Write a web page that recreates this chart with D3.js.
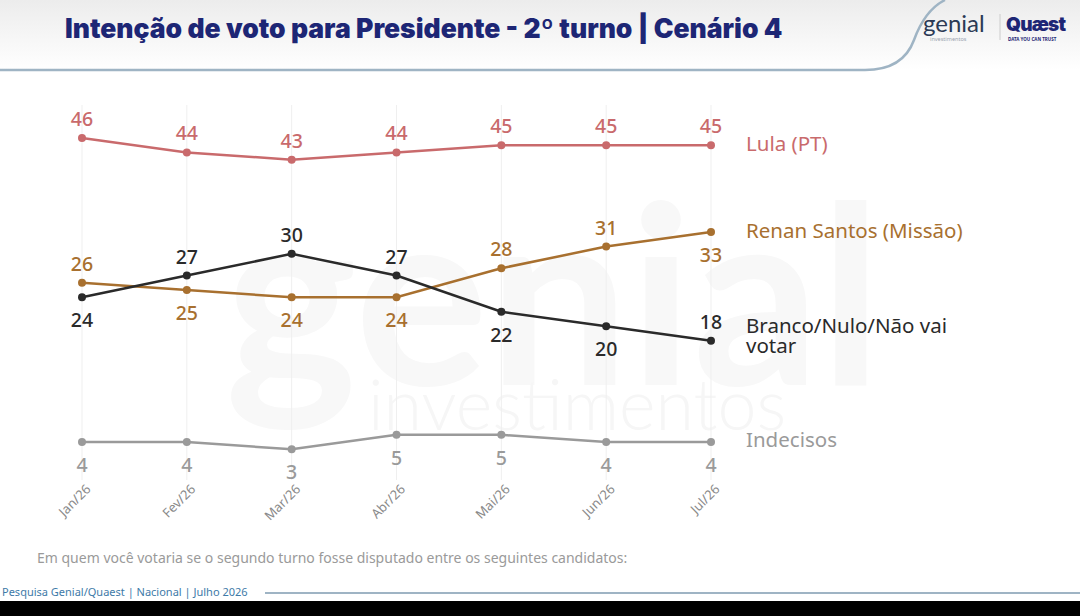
<!DOCTYPE html>
<html>
<head>
<meta charset="utf-8">
<script src="https://cdn.jsdelivr.net/npm/d3@7"></script>
<style>
body { margin: 0; background: #fff; }
svg { display: block; font-family: "Noto Sans", Lato, sans-serif; }
</style>
</head>
<body>
<script>
// dados
var meses = ['Jan/26', 'Fev/26', 'Mar/26', 'Abr/26', 'Mai/26', 'Jun/26', 'Jul/26'];
var lula = [46, 44, 43, 44, 45, 45, 45];
var renan = [26, 25, 24, 24, 28, 31, 33];
var branco = [24, 27, 30, 27, 22, 20, 18];
var indecisos = [4, 4, 3, 5, 5, 4, 4];

// label above (-1) or below (1)
var lulaPos = [-1, -1, -1, -1, -1, -1, -1];
var renanPos = [-1, 1, 1, 1, -1, -1, 1];
var brancoPos = [1, -1, -1, -1, 1, 1, -1];
var indecisosPos = [1, 1, 1, 1, 1, 1, 1];

var svg = d3.select('body').append('svg')
  .attr('width', 1080)
  .attr('height', 616);

var defs = svg.append('defs');
var grad = defs.append('linearGradient').attr('id', 'topgrad').attr('x1', 0).attr('y1', 0).attr('x2', 0).attr('y2', 1);
grad.append('stop').attr('offset', '0%').attr('stop-color', '#ececec');
grad.append('stop').attr('offset', '100%').attr('stop-color', '#ffffff');

svg.append('rect').attr('width', 1080).attr('height', 616).attr('fill', '#fff');
svg.append('rect').attr('width', 1080).attr('height', 70).attr('fill', 'url(#topgrad)');

// header curve
svg.append('path')
  .attr('d', 'M0,70 L865,70 Q903,70 914,40 Q925,10 945,0')
  .attr('fill', 'none')
  .attr('stroke', '#9fb4c4')
  .attr('stroke-width', 2.5);

svg.append('text')
  .attr('x', 65).attr('y', 38)
  .attr('font-size', 26.5).attr('font-weight', 900)
  .attr('fill', '#1d2675')
  .attr('font-family', 'Inter, Lato, sans-serif')
  .text('Intenção de voto para Presidente - 2º turno | Cenário 4');

// logos
svg.append('text').attr('x', 923).attr('y', 32).attr('font-size', 24).attr('fill', '#2b3a55')
  .attr('font-family', 'Lato, sans-serif').text('genial');
svg.append('text').attr('x', 930).attr('y', 41).attr('font-size', 5.5).attr('fill', '#9aa3b0').text('investimentos');
svg.append('line').attr('x1', 1000).attr('x2', 1000).attr('y1', 14).attr('y2', 40).attr('stroke', '#ccc');
svg.append('text').attr('x', 1006).attr('y', 31).attr('font-size', 19).attr('font-weight', 900).attr('fill', '#1d2675')
  .attr('font-family', 'Inter, sans-serif').attr('letter-spacing', -0.8).text('Quæst');
svg.append('text').attr('x', 1008).attr('y', 41).attr('font-size', 4.5).attr('font-weight', 700).attr('fill', '#1d2675').text('DATA YOU CAN TRUST');

// watermark
svg.append('text').attr('x', 225).attr('y', 385).attr('font-size', 250).attr('font-weight', 700)
  .attr('fill', '#f8f8f8').attr('font-family', 'Lato, sans-serif').text('genial');
svg.append('text').attr('x', 368).attr('y', 430).attr('font-size', 70).attr('font-weight', 300)
  .attr('fill', '#f6f6f6').attr('font-family', 'Lato, sans-serif').text('investimentos');

var x = d3.scalePoint().domain(meses).range([82, 711]);
var y = d3.scaleLinear().domain([0, 50]).range([471, 109]);

// vertical gridlines
svg.append('g').selectAll('line').data(meses).enter().append('line')
  .attr('x1', function(d) { return x(d); })
  .attr('x2', function(d) { return x(d); })
  .attr('y1', 105).attr('y2', 480)
  .attr('stroke', '#efefef').attr('stroke-width', 1);

// x axis labels
var xAxis = d3.axisBottom(x).tickSize(0).tickPadding(0);
var gx = svg.append('g').attr('transform', 'translate(0,490)').call(xAxis);
gx.select('.domain').remove();
gx.selectAll('text')
  .attr('font-size', 13).attr('fill', '#8a8a8a')
  .attr('font-family', '"Noto Sans", sans-serif')
  .attr('text-anchor', 'end')
  .attr('dy', 0)
  .attr('transform', 'translate(9,0) rotate(-45)');

var series = [
  { nome: 'Lula (PT)', vals: lula, pos: lulaPos, cor: '#c96a6c', ly: 144 },
  { nome: 'Renan Santos (Missão)', vals: renan, pos: renanPos, cor: '#a8702f', ly: 231 },
  { nome: 'Branco/Nulo/Não vai|votar', vals: branco, pos: brancoPos, cor: '#2a2a2a', ly: 326 },
  { nome: 'Indecisos', vals: indecisos, pos: indecisosPos, cor: '#9a9a9a', ly: 440 }
];

var line = d3.line()
  .x(function(d, i) { return x(meses[i]); })
  .y(function(d) { return y(d); });

series.forEach(function(s) {
  var g = svg.append('g');
  g.append('path').datum(s.vals)
    .attr('d', line)
    .attr('fill', 'none')
    .attr('stroke', s.cor)
    .attr('stroke-width', 2.5);
  g.selectAll('circle').data(s.vals).enter().append('circle')
    .attr('cx', function(d, i) { return x(meses[i]); })
    .attr('cy', function(d) { return y(d); })
    .attr('r', 4)
    .attr('fill', s.cor);
  g.selectAll('text.val').data(s.vals).enter().append('text')
    .attr('class', 'val')
    .attr('x', function(d, i) { return x(meses[i]); })
    .attr('y', function(d, i) { return y(d) + (s.pos[i] < 0 ? -12 : 30); })
    .attr('text-anchor', 'middle')
    .attr('font-size', 19.5).attr('font-weight', 500)
    .attr('fill', s.cor)
    .text(function(d) { return d; });
  var parts = s.nome.split('|');
  var t = g.append('text')
    .attr('x', 746).attr('y', s.ly + 7)
    .attr('font-size', 20.5)
    .attr('fill', s.cor);
  parts.forEach(function(p, i) {
    t.append('tspan').attr('x', 746).attr('dy', i == 0 ? 0 : 20).text(p);
  });
});

// footer
svg.append('text').attr('x', 37).attr('y', 563).attr('font-size', 14).attr('fill', '#9a9a9a')
  .text('Em quem você votaria se o segundo turno fosse disputado entre os seguintes candidatos:');
svg.append('text').attr('x', 2).attr('y', 596).attr('font-size', 11).attr('fill', '#3e7aa8')
  .text('Pesquisa Genial/Quaest | Nacional | Julho 2026');
svg.append('line').attr('x1', 265).attr('x2', 1080).attr('y1', 593).attr('y2', 593)
  .attr('stroke', '#9fb4c4').attr('stroke-width', 2);
svg.append('rect').attr('x', 0).attr('y', 601).attr('width', 1080).attr('height', 15).attr('fill', '#000');
</script>
</body>
</html>
